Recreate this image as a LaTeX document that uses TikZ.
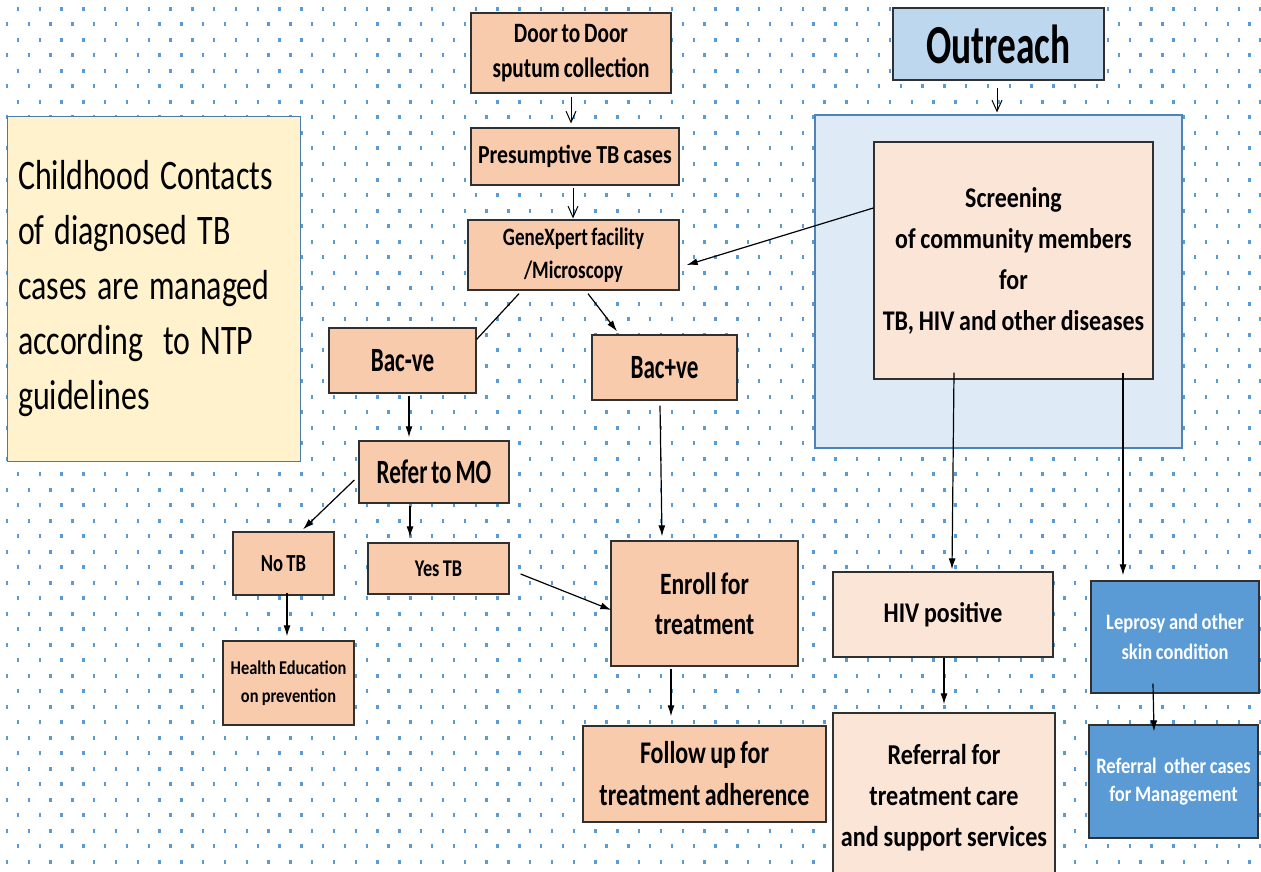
\documentclass[tikz,border=0pt]{standalone}
\usepackage{fontspec}
\usepackage{xcolor}
\usetikzlibrary{arrows.meta}
\setmainfont[FakeStretch=0.76, WordSpace=0.8]{Carlito}
\newfontfamily\tallfont[FakeStretch=0.68, WordSpace=0.75]{Carlito}
\newfontfamily\widefont[FakeStretch=0.84, WordSpace=0.88]{Carlito}
\newcommand{\fsz}[2]{\fontsize{#1}{#2}\selectfont}
\newcommand{\tightsp}{\spaceskip=10pt plus 1pt minus 1pt\relax}

\definecolor{dotblue}{HTML}{5B9BD5}
\definecolor{peach}{HTML}{F8CBAD}
\definecolor{lightpeach}{HTML}{FBE5D6}
\definecolor{cream}{HTML}{FFF2CC}
\definecolor{paleblue}{HTML}{DEEBF7}
\definecolor{skyblue}{HTML}{BDD7EE}
\definecolor{midblue}{HTML}{5B9BD5}
\definecolor{boxline}{HTML}{303030}

\tikzset{
  stepbox/.style={draw=boxline, line width=1.3pt, fill=peach, inner sep=0pt, align=center, font=\bfseries},
  palebox/.style={stepbox, fill=lightpeach},
  bluebox/.style={stepbox, fill=midblue, text=white},
  arr/.style={-{Latex[length=11pt,width=7pt]}, line width=1.2pt},
  openarr/.style={-{Straight Barb[length=11pt,width=10pt]}, line width=1pt},
}

\begin{document}
\begin{tikzpicture}[x=1pt, y=-1pt]
        \useasboundingbox (0,0) rectangle (1261,872);
        \clip (0,0) rectangle (1261,872);
        \fill[white] (0,0) rectangle (1261,872);
        % dotted background
        \foreach \r in {0,...,56} {
          \foreach \c in {0,...,58} {
            \fill[dotblue] ({7+11*(1-mod(\r,2))+21.8*\c-1.2}, {9+15.5*\r-2}) rectangle ++(2.4,4);
          }
        }
        % left column
        \node[draw=dotblue!80!black, line width=1pt, fill=cream, minimum width=293, minimum height=344, inner xsep=11pt, text width=271pt, align=left, font=\fsz{42}{55}] (child) at (153.5,289) {\tightsp Childhood Contacts\\ of diagnosed TB\\ cases are managed\\ according\ \ to NTP\\ guidelines};
        % outreach side
        \node[draw=dotblue!85!black, line width=1.2pt, fill=paleblue, minimum width=367, minimum height=333] (bigbox) at (998.5,281.5) {};
        \node[stepbox, fill=skyblue, line width=1.8pt, minimum width=211, minimum height=72, font=\tallfont\bfseries\fsz{55}{60}] (outreach) at (998.5,44) {Outreach};
        \node[palebox, minimum width=279, minimum height=237, font=\widefont\bfseries\fsz{28.5}{41}] (screen) at (1013.5,260.5) {Screening\\ of community members\\ for\\ TB, HIV and other diseases};
        \node[palebox, minimum width=220, minimum height=85, font=\widefont\bfseries\fsz{28.5}{36}] (hiv) at (943,614.5) {HIV positive};
        \node[palebox, minimum width=222, minimum height=170, font=\widefont\bfseries\fsz{28.8}{41}] (referral) at (944,798) {Referral for\\ treatment care\\ and support services};
        \node[bluebox, minimum width=168, minimum height=112, font=\widefont\bfseries\fsz{22}{30}] (lepro) at (1175,637) {Leprosy and other\\ skin condition};
        \node[bluebox, minimum width=169, minimum height=113, font=\widefont\bfseries\fsz{22}{28}] (refoth) at (1173.5,781.5) {Referral\ \ other cases\\ for Management};
        % main column
        \node[stepbox, minimum width=200, minimum height=80, font=\bfseries\fsz{28}{35}] (door) at (571,53) {Door to Door\\ sputum collection};
        \node[stepbox, minimum width=208, minimum height=57, font=\widefont\bfseries\fsz{26}{30}] (pres) at (575,156.5) {Presumptive TB cases};
        \node[stepbox, minimum width=211, minimum height=70, font=\bfseries\fsz{25}{33}] (gene) at (573.5,255) {GeneXpert facility\\ /Microscopy};
        \node[stepbox, minimum width=147, minimum height=65, font=\tallfont\bfseries\fsz{34}{40}] (bacn) at (402.5,360.5) {Bac-ve};
        \node[stepbox, minimum width=145, minimum height=65, font=\tallfont\bfseries\fsz{34}{40}] (bacp) at (664.5,367.5) {Bac+ve};
        \node[stepbox, minimum width=150, minimum height=62, font=\tallfont\bfseries\fsz{34}{40}] (refer) at (434,472) {Refer to MO};
        \node[stepbox, minimum width=101, minimum height=63, font=\bfseries\fsz{24.5}{30}] (notb) at (283.5,563.5) {No TB};
        \node[stepbox, minimum width=141, minimum height=51, font=\bfseries\fsz{24}{30}] (yestb) at (438.5,568.5) {Yes TB};
        \node[stepbox, minimum width=131, minimum height=84, font=\widefont\bfseries\fsz{19.5}{28}] (health) at (288.5,683) {Health Education\\ on prevention};
        \node[stepbox, minimum width=187, minimum height=125, font=\bfseries\fsz{31}{40}] (enroll) at (704.5,603.5) {Enroll for\\ treatment};
        \node[stepbox, minimum width=243, minimum height=96, font=\bfseries\fsz{31.5}{42}] (follow) at (704.5,774) {Follow up for\\ treatment adherence};
        % connectors
        \draw[openarr, shorten <=3pt, shorten >=4pt] (door.south) -- (door.south |- pres.north);     % door - pres
        \draw[openarr, shorten <=2pt, shorten >=1pt] ([xshift=-2pt]pres.south) -- ([xshift=-2pt]pres.south |- gene.north); % pres - gene
        \draw[arr] ([yshift=52.5pt]screen.west) -- ([xshift=7pt,yshift=-10pt]gene.east);            % screen - gene
        \draw[line width=1.2pt] ([xshift=-54.5pt,yshift=-3pt]gene.south) -- ([yshift=-12pt]bacn.north east); % gene - bacn
        \draw[arr] ([xshift=14.5pt,yshift=-3pt]gene.south) -- ([xshift=-47.5pt,yshift=3pt]bacp.north); % gene - bacp
        \draw[arr] ([xshift=6.5pt,yshift=-2pt]bacn.south) -- ([xshift=-25pt,yshift=3pt]refer.north);   % bacn - refer
        \draw[arr] ([xshift=-4pt,yshift=-8pt]refer.west) -- ([xshift=19.5pt,yshift=2pt]notb.north);   % refer - notb
        \draw[arr] ([xshift=-24pt,yshift=-2pt]refer.south) -- ([xshift=-28.5pt,yshift=5pt]yestb.north); % refer - yestb
        \draw[arr] ([xshift=3.5pt,yshift=3pt]notb.south) -- ([xshift=-1.5pt,yshift=4pt]health.north);  % notb - health
        \draw[arr] ([xshift=11pt,yshift=-5.5pt]yestb.east) -- ([xshift=1pt,yshift=-6.5pt]enroll.west); % yestb - enroll
        \draw[arr] ([xshift=-4.5pt,yshift=-5pt]bacp.south) -- ([xshift=-42.5pt,yshift=4pt]enroll.north); % bacp - enroll
        \draw[arr] ([xshift=-33.5pt,yshift=-2pt]enroll.south) -- ([xshift=-33.5pt,yshift=9pt]follow.north); % enroll - follow
        \draw[openarr] ([xshift=-1.5pt,yshift=-7pt]outreach.south) -- ([xshift=-1.5pt,yshift=2pt]bigbox.north); % outreach - bigbox
        \draw[arr] ([xshift=-59.5pt,yshift=7pt]screen.south) -- ([xshift=9pt,yshift=2pt]hiv.north);    % screen - hiv
        \draw[arr] ([xshift=109.5pt,yshift=7pt]screen.south) -- ([xshift=-52pt,yshift=5pt]lepro.north); % screen - lepro
        \draw[arr] ([xshift=1pt]hiv.south) -- ([xshift=0pt,yshift=8pt]referral.north);                 % hiv - referral
        \draw[arr] ([xshift=-22pt,yshift=10pt]lepro.south) -- ([xshift=-19.5pt,yshift=-7pt]refoth.north); % lepro - refoth
    \end{tikzpicture}
\end{document}
